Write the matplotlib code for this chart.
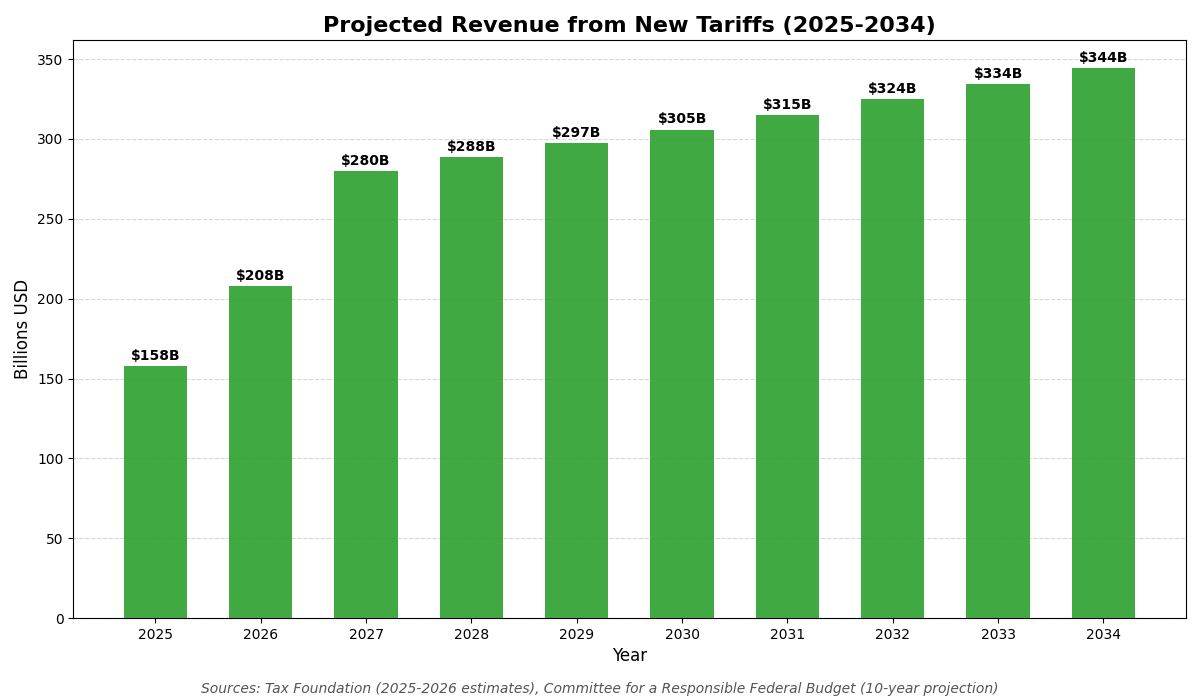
import matplotlib
matplotlib.use("Agg")
import matplotlib.pyplot as plt

years = ["2025", "2026", "2027", "2028", "2029", "2030", "2031", "2032", "2033", "2034"]
revenue = [158.0, 208.0, 280.0, 288.6, 297.4, 305.9, 315.0, 324.9, 334.4, 344.4]

fig = plt.figure(figsize=(12, 7), dpi=100)
ax = fig.add_subplot()
bars = ax.bar(years, revenue, color="#2ca02c", alpha=0.9, width=0.6, zorder=3)

for b, v in zip(bars, revenue):
    ax.text(b.get_x() + b.get_width() / 2, b.get_height() + 2, f"${int(v)}B",
            ha="center", va="bottom", fontsize=10, fontweight="bold")

ax.set_title("Projected Revenue from New Tariffs (2025-2034)", fontsize=16, fontweight="bold")
ax.set_xlabel("Year", fontsize=12)
ax.set_ylabel("Billions USD", fontsize=12)
ax.set_ylim(0, 362)
ax.grid(axis="y", linestyle="--", alpha=0.5, zorder=0)

fig.text(0.5, 0.01, "Sources: Tax Foundation (2025-2026 estimates), Committee for a Responsible Federal Budget (10-year projection)",
         ha="center", fontsize=10, style="italic", color="#555555")

plt.subplots_adjust(left=0.061, right=0.988, top=0.943, bottom=0.117)
plt.savefig("out.png")
